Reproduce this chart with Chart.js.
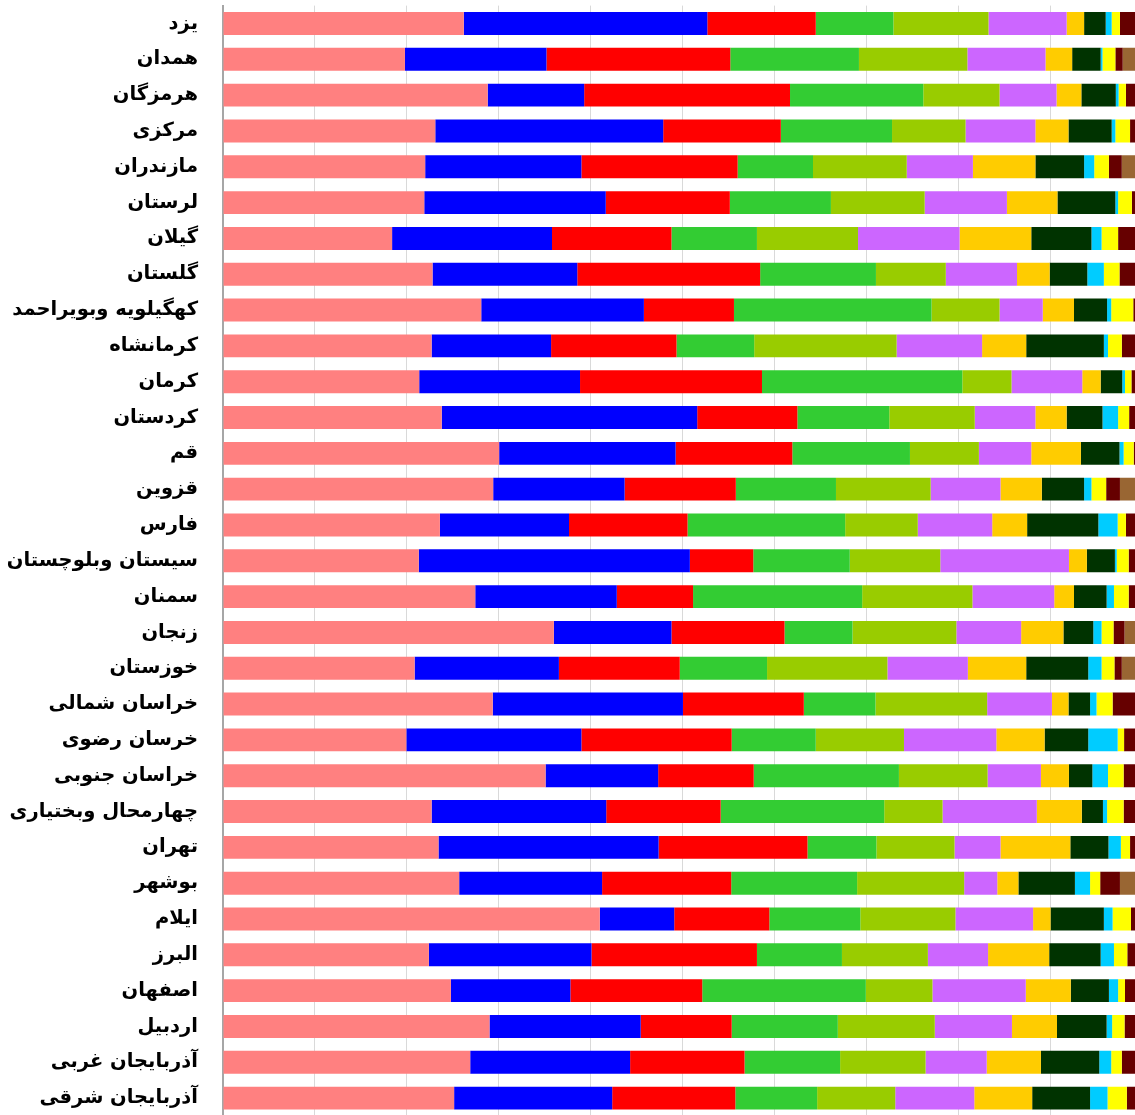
<!DOCTYPE html>
<html>
<head>
<meta charset="utf-8">
<script src="https://cdn.jsdelivr.net/npm/chart.js@4"></script>
<style>
html, body { margin: 0; padding: 0; background: #fff; overflow: hidden; }
#wrap { position: relative; width: 1142px; height: 1116px; }
</style>
</head>
<body>
<div id="wrap"><canvas id="chart"></canvas></div>
<script>
var provinces = ['یزد', 'همدان', 'هرمزگان', 'مرکزی', 'مازندران', 'لرستان', 'گیلان', 'گلستان',
    'کهگیلویه وبویراحمد', 'کرمانشاه', 'کرمان', 'کردستان', 'قم', 'قزوین', 'فارس',
    'سیستان وبلوچستان', 'سمنان', 'زنجان', 'خوزستان', 'خراسان شمالی', 'خرسان رضوی',
    'خراسان جنوبی', 'چهارمحال وبختیاری', 'تهران', 'بوشهر', 'ایلام', 'البرز', 'اصفهان',
    'اردبیل', 'آذربایجان غربی', 'آذربایجان شرقی'];

// share of each group per province (percent), left to right
var pinkShare = [26.2, 19.8, 28.8, 23.1, 22.0, 21.9, 18.4, 22.8, 28.1, 22.7, 21.35, 23.8, 30.05, 29.4, 23.6, 21.3, 27.45, 36.0, 20.85, 29.35, 19.95, 35.1, 22.7, 23.45, 25.7, 41.0, 22.4, 24.8, 29.0, 26.9, 25.15];
var blueShare = [26.5, 15.4, 10.5, 24.8, 17.0, 19.75, 17.4, 15.75, 17.7, 13.0, 17.5, 27.8, 19.2, 14.3, 14.05, 29.5, 15.4, 12.8, 15.7, 20.7, 19.05, 12.25, 19.0, 23.95, 15.55, 8.1, 17.7, 13.0, 16.45, 17.4, 17.2];
var redShare = [11.8, 20.0, 22.4, 12.8, 17.0, 13.5, 13.0, 19.9, 9.8, 13.65, 19.8, 10.9, 12.7, 12.1, 12.9, 6.9, 8.3, 12.3, 13.15, 13.15, 16.35, 10.4, 12.45, 16.2, 14.05, 10.35, 18.0, 14.35, 9.9, 12.45, 13.4];
var greenShare = [8.45, 14.0, 14.5, 12.1, 8.2, 11.0, 9.3, 12.6, 21.5, 8.45, 21.8, 10.0, 12.8, 10.9, 17.15, 10.5, 18.4, 7.4, 9.5, 7.8, 9.15, 15.8, 17.8, 7.5, 13.7, 9.9, 9.25, 17.8, 11.55, 10.4, 8.9];
var oliveShare = [10.35, 11.8, 8.3, 8.0, 10.2, 10.2, 11.0, 7.6, 7.4, 15.5, 5.35, 9.3, 7.5, 10.3, 7.9, 9.85, 12.0, 11.3, 13.1, 12.15, 9.6, 9.65, 6.35, 8.5, 11.65, 10.35, 9.35, 7.25, 10.55, 9.3, 8.5];
var violetShare = [8.5, 8.5, 6.2, 7.6, 7.2, 8.95, 11.05, 7.75, 4.7, 9.3, 7.7, 6.6, 5.7, 7.6, 8.1, 14.0, 8.9, 7.05, 8.75, 7.05, 10.05, 5.8, 10.25, 5.0, 3.6, 8.45, 6.55, 10.15, 8.4, 6.65, 8.6];
var goldShare = [1.9, 2.9, 2.7, 3.6, 6.8, 5.5, 7.8, 3.55, 3.4, 4.8, 2.0, 3.4, 5.4, 4.5, 3.8, 1.95, 2.15, 4.6, 6.35, 1.8, 5.25, 3.05, 4.9, 7.6, 2.3, 1.9, 6.65, 4.9, 4.9, 5.9, 6.3];
var darkGreenShare = [2.35, 3.1, 3.75, 4.7, 5.3, 6.3, 6.55, 4.1, 3.6, 8.45, 2.35, 3.9, 4.2, 4.6, 7.75, 3.05, 3.55, 3.25, 6.75, 2.35, 4.75, 2.55, 2.3, 4.15, 6.15, 5.8, 5.6, 4.15, 5.4, 6.35, 6.3];
var cyanShare = [0.65, 0.2, 0.3, 0.4, 1.1, 0.3, 1.1, 1.8, 0.45, 0.45, 0.3, 1.7, 0.45, 0.8, 2.1, 0.2, 0.8, 0.9, 1.45, 0.7, 3.2, 1.7, 0.45, 1.35, 1.65, 0.95, 1.45, 1.0, 0.6, 1.3, 1.9];
var yellowShare = [0.9, 1.4, 0.8, 1.6, 1.6, 1.5, 1.8, 1.7, 2.4, 1.5, 0.7, 1.2, 1.1, 1.6, 0.9, 1.3, 1.6, 1.3, 1.4, 1.75, 0.7, 1.7, 1.8, 1.0, 1.1, 2.0, 1.45, 0.75, 1.35, 1.15, 2.1];
var darkRedShare = [2.35, 0.8, 1.7, 1.3, 1.4, 1.2, 2.6, 2.35, 0.9, 2.2, 1.1, 1.4, 0.9, 1.5, 1.7, 1.5, 1.4, 1.2, 0.8, 3.2, 2.0, 1.9, 2.1, 1.25, 2.15, 1.2, 1.55, 1.85, 2.0, 2.2, 1.65];
var brownShare = [0, 2.1, 0, 0, 2.2, 0, 0, 0, 0, 0, 0, 0, 0, 2.35, 0, 0, 0, 1.9, 2.15, 0, 0, 0, 0, 0, 2.35, 0, 0, 0, 0, 0, 0];

var groups = [
    [pinkShare, '#FF8080'],
    [blueShare, '#0000FF'],
    [redShare, '#FF0000'],
    [greenShare, '#33CC33'],
    [oliveShare, '#99CC00'],
    [violetShare, '#CC66FF'],
    [goldShare, '#FFCC00'],
    [darkGreenShare, '#003300'],
    [cyanShare, '#00CCFF'],
    [yellowShare, '#FFFF00'],
    [darkRedShare, '#660000'],
    [brownShare, '#996633']
];

var datasets = [];
for (var i = 0; i < groups.length; i++) {
    datasets.push({
        data: groups[i][0],
        backgroundColor: groups[i][1],
        borderWidth: 0,
        barPercentage: 0.64,
        categoryPercentage: 1.0
    });
}

var chart = new Chart(document.getElementById('chart').getContext('2d'), {
    type: 'bar',
    data: { labels: provinces, datasets: datasets },
    options: {
        indexAxis: 'y',
        responsive: true,
        maintainAspectRatio: false,
        animation: false,
        layout: { padding: { top: 5.6, right: 0, bottom: 0, left: 0 } },
        plugins: { legend: { display: false }, tooltip: { enabled: false } },
        scales: {
            x: {
                stacked: true,
                min: 0,
                max: 100,
                afterFit: function(scale) { scale.height = 0; },
                ticks: { display: false, stepSize: 10 },
                grid: { color: '#d9d9d9', lineWidth: 1, drawTicks: false },
                border: { display: false }
            },
            y: {
                stacked: true,
                afterFit: function(scale) {
                    scale.width = 223;
                    scale.paddingTop = 0;
                    scale.paddingBottom = 0;
                },
                grid: { display: false, drawTicks: false },
                border: { display: true, color: '#a6a6a6', width: 2 },
                ticks: {
                    color: '#000',
                    padding: 25,
                    autoSkip: false,
                    font: { family: 'DejaVu Sans', weight: 'bold', size: 19.5 }
                }
            }
        }
    }
});
</script>
</body>
</html>
